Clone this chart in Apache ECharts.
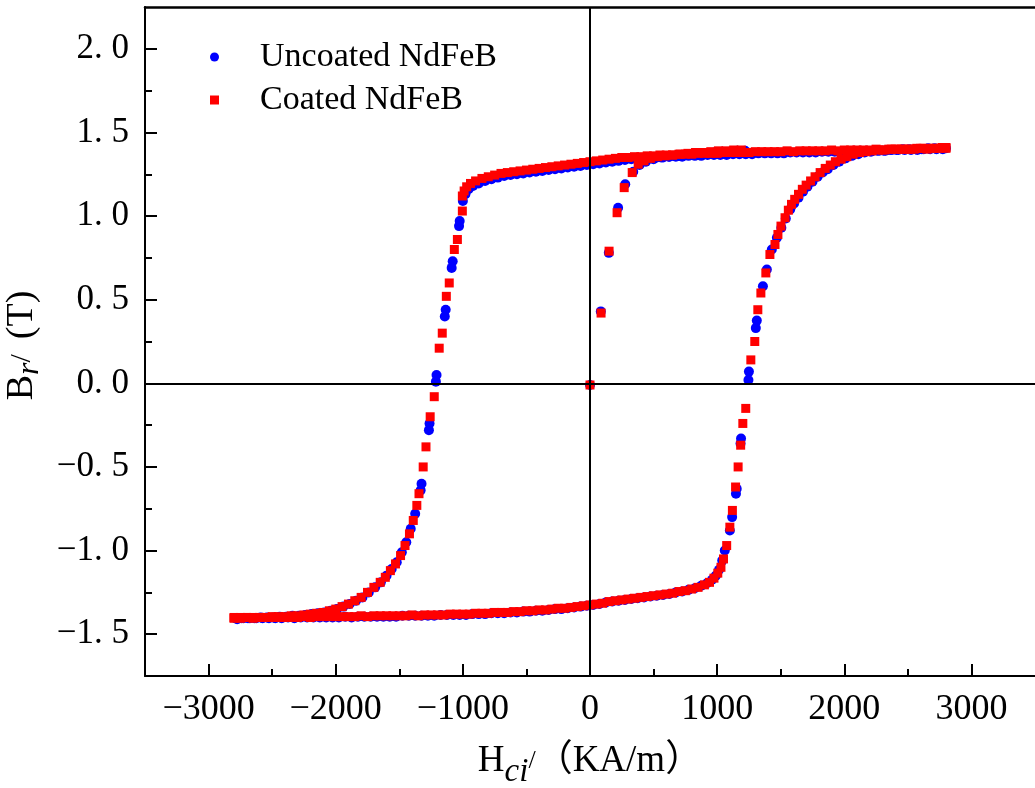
<!DOCTYPE html>
<html>
<head>
<meta charset="utf-8">
<title>NdFeB hysteresis loops</title>
<script src="https://cdn.jsdelivr.net/npm/echarts@6/dist/echarts.min.js"></script>
<style>
  html, body { margin: 0; padding: 0; background: #fff; }
  #chart { width: 1035px; height: 788px; }
</style>
</head>
<body>
<div id="chart"></div>
<script>
// Axis ticks and their labels
const xMajorTicks = [-3000, -2000, -1000, 0, 1000, 2000, 3000];
const xMinorTicks = [-2500, -1500, -500, 500, 1500, 2500];
const xTickLabels = ['\u22123000', '\u22122000', '\u22121000', '0', '1000', '2000', '3000'];
const yMajorTicks = [-1.5, -1.0, -0.5, 0, 0.5, 1.0, 1.5, 2.0];
const yMinorTicks = [-1.25, -0.75, -0.25, 0.25, 0.75, 1.25, 1.75];
const yTickLabels = ['\u22121. 5', '\u22121. 0', '\u22120. 5', '0. 0', '0. 5', '1. 0', '1. 5', '2. 0'];

const seriesNames = ['Uncoated NdFeB', 'Coated NdFeB'];

// Uncoated NdFeB, [H (KA/m), B (T)]
const uncoatedInitial = [
  [0, -0.01], [85, 0.43], [148, 0.78], [221, 1.05], [277, 1.19], [340, 1.265], [390, 1.305],
  [440, 1.325], [500, 1.34], [560, 1.35], [620, 1.355], [680, 1.36], [740, 1.365], [800, 1.37],
  [860, 1.375], [920, 1.375], [980, 1.38], [1040, 1.385], [1100, 1.385], [1160, 1.39], [1220, 1.39]
];
const uncoatedDescending = [
  [2775, 1.400], [2725, 1.400], [2675, 1.400], [2625, 1.400], [2575, 1.395], [2525, 1.395],
  [2475, 1.395], [2425, 1.395], [2375, 1.395], [2325, 1.390], [2275, 1.390], [2225, 1.390],
  [2175, 1.390], [2125, 1.390], [2075, 1.390], [2025, 1.385], [1975, 1.385], [1925, 1.385],
  [1875, 1.385], [1825, 1.385], [1775, 1.380], [1725, 1.380], [1675, 1.380], [1625, 1.380],
  [1575, 1.380], [1525, 1.375], [1475, 1.375], [1425, 1.375], [1375, 1.375], [1325, 1.375],
  [1275, 1.370], [1225, 1.370], [1175, 1.370], [1125, 1.370], [1075, 1.365], [1025, 1.365],
  [975, 1.365], [925, 1.365], [875, 1.360], [825, 1.360], [775, 1.360], [725, 1.355],
  [675, 1.355], [625, 1.355], [575, 1.350], [525, 1.350], [475, 1.345], [425, 1.345],
  [375, 1.340], [325, 1.340], [275, 1.335], [225, 1.330], [175, 1.325], [125, 1.320],
  [75, 1.315], [25, 1.310], [-25, 1.305], [-75, 1.300], [-125, 1.295], [-175, 1.290],
  [-225, 1.285], [-275, 1.280], [-325, 1.275], [-375, 1.270], [-425, 1.265], [-475, 1.260],
  [-525, 1.255], [-575, 1.250], [-625, 1.245], [-675, 1.240], [-725, 1.230], [-775, 1.220],
  [-825, 1.210], [-875, 1.195], [-920, 1.180], [-955, 1.160], [-980, 1.130], [-1000, 1.090],
  [-1025, 0.97], [-1030, 0.94], [-1080, 0.73], [-1088, 0.69], [-1135, 0.44], [-1142, 0.40],
  [-1207, 0.05], [-1212, 0.01], [-1262, -0.24], [-1267, -0.28], [-1325, -0.60], [-1332, -0.64],
  [-1375, -0.78], [-1410, -0.87], [-1445, -0.95], [-1480, -1.01], [-1520, -1.07], [-1560, -1.11],
  [-1600, -1.15], [-1645, -1.19], [-1690, -1.22], [-1740, -1.25], [-1790, -1.28], [-1840, -1.30],
  [-1890, -1.32], [-1940, -1.335], [-1990, -1.35], [-2040, -1.36], [-2090, -1.37], [-2140, -1.375],
  [-2190, -1.38], [-2240, -1.385], [-2290, -1.39], [-2340, -1.39], [-2390, -1.395], [-2440, -1.395],
  [-2490, -1.40], [-2540, -1.40], [-2590, -1.40], [-2640, -1.405], [-2690, -1.405], [-2740, -1.405],
  [-2790, -1.405]
];
const uncoatedAscending = [
  [-2775, -1.410], [-2725, -1.405], [-2675, -1.405], [-2625, -1.405], [-2575, -1.405], [-2525, -1.405],
  [-2475, -1.405], [-2425, -1.405], [-2375, -1.400], [-2325, -1.405], [-2275, -1.400], [-2225, -1.400],
  [-2175, -1.400], [-2125, -1.400], [-2075, -1.400], [-2025, -1.400], [-1975, -1.400], [-1925, -1.395],
  [-1875, -1.400], [-1825, -1.395], [-1775, -1.395], [-1725, -1.395], [-1675, -1.395], [-1625, -1.395],
  [-1575, -1.395], [-1525, -1.395], [-1475, -1.390], [-1425, -1.390], [-1375, -1.390], [-1325, -1.390],
  [-1275, -1.390], [-1225, -1.390], [-1175, -1.385], [-1125, -1.385], [-1075, -1.385], [-1025, -1.385],
  [-975, -1.385], [-925, -1.380], [-875, -1.380], [-825, -1.380], [-775, -1.375], [-725, -1.375],
  [-675, -1.375], [-625, -1.370], [-575, -1.370], [-525, -1.365], [-475, -1.365], [-425, -1.360],
  [-375, -1.360], [-325, -1.355], [-275, -1.350], [-225, -1.350], [-175, -1.345], [-125, -1.340],
  [-75, -1.335], [-25, -1.330], [25, -1.325], [75, -1.320], [125, -1.310], [175, -1.305],
  [225, -1.300], [275, -1.295], [325, -1.290], [375, -1.285], [425, -1.280], [475, -1.275],
  [525, -1.270], [575, -1.265], [625, -1.260], [675, -1.250], [725, -1.245], [775, -1.235],
  [825, -1.225], [875, -1.210], [920, -1.195], [960, -1.175], [990, -1.150], [1015, -1.115],
  [1040, -1.060], [1060, -1.00], [1100, -0.88], [1118, -0.80], [1148, -0.66], [1154, -0.63],
  [1184, -0.36], [1188, -0.33], [1246, 0.02], [1250, 0.07], [1304, 0.33], [1312, 0.375],
  [1360, 0.58], [1391, 0.68], [1430, 0.80], [1470, 0.87], [1505, 0.93], [1540, 0.985],
  [1575, 1.04], [1605, 1.075], [1640, 1.11], [1675, 1.145], [1710, 1.175], [1750, 1.205],
  [1790, 1.235], [1830, 1.26], [1870, 1.28], [1915, 1.305], [1960, 1.325], [2010, 1.345],
  [2060, 1.36], [2110, 1.37], [2160, 1.38], [2210, 1.385], [2260, 1.39], [2310, 1.39],
  [2360, 1.395], [2410, 1.395], [2460, 1.40], [2510, 1.40], [2560, 1.40], [2610, 1.40],
  [2660, 1.405], [2710, 1.405], [2760, 1.405], [2800, 1.405]
];

// Coated NdFeB, [H (KA/m), B (T)]
const coatedInitial = [
  [0, -0.01], [87, 0.42], [150, 0.79], [213, 1.02], [269, 1.17], [332, 1.26], [379, 1.31],
  [425, 1.33], [475, 1.345], [530, 1.355], [590, 1.36], [650, 1.365], [710, 1.37], [770, 1.375],
  [830, 1.38], [890, 1.38], [950, 1.385], [1010, 1.39], [1070, 1.39], [1130, 1.395], [1190, 1.395]
];
const coatedDescending = [
  [2800, 1.405], [2750, 1.405], [2700, 1.405], [2650, 1.400], [2600, 1.405], [2550, 1.400],
  [2500, 1.400], [2450, 1.400], [2400, 1.400], [2350, 1.400], [2300, 1.395], [2250, 1.400],
  [2200, 1.395], [2150, 1.395], [2100, 1.395], [2050, 1.395], [2000, 1.395], [1950, 1.390],
  [1900, 1.395], [1850, 1.390], [1800, 1.390], [1750, 1.390], [1700, 1.390], [1650, 1.390],
  [1600, 1.385], [1550, 1.390], [1500, 1.385], [1450, 1.385], [1400, 1.385], [1350, 1.385],
  [1300, 1.385], [1250, 1.380], [1200, 1.380], [1150, 1.380], [1100, 1.380], [1050, 1.380],
  [1000, 1.375], [950, 1.375], [900, 1.375], [850, 1.375], [800, 1.370], [750, 1.370],
  [700, 1.370], [650, 1.365], [600, 1.365], [550, 1.365], [500, 1.360], [450, 1.360],
  [400, 1.355], [350, 1.355], [300, 1.350], [250, 1.350], [200, 1.345], [150, 1.340],
  [100, 1.335], [50, 1.330], [0, 1.325], [-50, 1.320], [-100, 1.315], [-150, 1.310],
  [-200, 1.305], [-250, 1.300], [-300, 1.295], [-350, 1.290], [-400, 1.285], [-450, 1.280],
  [-500, 1.275], [-550, 1.270], [-600, 1.265], [-650, 1.260], [-700, 1.255], [-750, 1.245],
  [-800, 1.235], [-850, 1.225], [-900, 1.210], [-940, 1.195], [-970, 1.175], [-990, 1.150],
  [-1004, 1.12], [-1004, 1.03], [-1043, 0.86], [-1067, 0.80], [-1107, 0.60], [-1130, 0.52],
  [-1162, 0.30], [-1186, 0.21], [-1225, -0.08], [-1257, -0.20], [-1290, -0.38], [-1312, -0.50],
  [-1345, -0.66], [-1362, -0.73], [-1390, -0.82], [-1420, -0.90], [-1455, -0.97], [-1490, -1.03],
  [-1530, -1.08], [-1570, -1.12], [-1610, -1.16], [-1650, -1.19], [-1700, -1.22], [-1750, -1.25],
  [-1800, -1.28], [-1850, -1.30], [-1900, -1.32], [-1950, -1.335], [-2000, -1.35], [-2050, -1.36],
  [-2100, -1.37], [-2150, -1.375], [-2200, -1.38], [-2250, -1.385], [-2300, -1.39], [-2350, -1.39],
  [-2400, -1.395], [-2450, -1.395], [-2500, -1.395], [-2550, -1.40], [-2600, -1.40], [-2650, -1.40],
  [-2700, -1.40], [-2750, -1.40], [-2800, -1.40]
];
const coatedAscending = [
  [-2800, -1.405], [-2750, -1.405], [-2700, -1.400], [-2650, -1.405], [-2600, -1.400], [-2550, -1.400],
  [-2500, -1.400], [-2450, -1.400], [-2400, -1.400], [-2350, -1.400], [-2300, -1.400], [-2250, -1.395],
  [-2200, -1.400], [-2150, -1.395], [-2100, -1.395], [-2050, -1.395], [-2000, -1.395], [-1950, -1.395],
  [-1900, -1.395], [-1850, -1.395], [-1800, -1.390], [-1750, -1.395], [-1700, -1.390], [-1650, -1.390],
  [-1600, -1.390], [-1550, -1.390], [-1500, -1.390], [-1450, -1.390], [-1400, -1.385], [-1350, -1.390],
  [-1300, -1.385], [-1250, -1.385], [-1200, -1.385], [-1150, -1.385], [-1100, -1.380], [-1050, -1.380],
  [-1000, -1.380], [-950, -1.380], [-900, -1.375], [-850, -1.375], [-800, -1.375], [-750, -1.370],
  [-700, -1.370], [-650, -1.370], [-600, -1.365], [-550, -1.365], [-500, -1.360], [-450, -1.360],
  [-400, -1.355], [-350, -1.355], [-300, -1.350], [-250, -1.345], [-200, -1.345], [-150, -1.340],
  [-100, -1.335], [-50, -1.330], [0, -1.325], [50, -1.320], [100, -1.315], [150, -1.305],
  [200, -1.300], [250, -1.295], [300, -1.290], [350, -1.285], [400, -1.280], [450, -1.275],
  [500, -1.270], [550, -1.265], [600, -1.260], [650, -1.255], [700, -1.245], [750, -1.240],
  [800, -1.230], [850, -1.220], [900, -1.205], [940, -1.190], [975, -1.165], [1005, -1.135],
  [1030, -1.100], [1050, -1.05], [1075, -0.97], [1100, -0.86], [1120, -0.76], [1145, -0.62],
  [1165, -0.50], [1185, -0.37], [1202, -0.24], [1225, -0.15], [1265, 0.14], [1296, 0.25],
  [1320, 0.44], [1344, 0.54], [1383, 0.66], [1415, 0.77], [1455, 0.83], [1478, 0.89],
  [1502, 0.94], [1534, 0.99], [1560, 1.035], [1585, 1.07], [1610, 1.10], [1640, 1.13],
  [1670, 1.16], [1700, 1.185], [1735, 1.21], [1770, 1.235], [1810, 1.26], [1850, 1.285],
  [1890, 1.305], [1930, 1.325], [1975, 1.34], [2020, 1.355], [2070, 1.37], [2120, 1.38],
  [2170, 1.385], [2220, 1.39], [2270, 1.395], [2320, 1.395], [2370, 1.40], [2420, 1.40],
  [2470, 1.40], [2520, 1.40], [2570, 1.405], [2620, 1.405], [2670, 1.405], [2720, 1.405],
  [2770, 1.41], [2800, 1.41]
];

const uncoatedData = uncoatedInitial.concat(uncoatedDescending, uncoatedAscending);
const coatedData = coatedInitial.concat(coatedDescending, coatedAscending);

const serif = "'Liberation Serif', 'Times New Roman', 'Noto Sans CJK SC', serif";
const BLACK = '#000';
const X_MIN = -3500, X_MAX = 3500, Y_MIN = -1.75, Y_MAX = 2.25;

function labelFor(ticks, labels) {
  return function (v) {
    for (let i = 0; i < ticks.length; i++) {
      if (Math.abs(ticks[i] - v) < 1e-6) return labels[i];
    }
    return '';
  };
}

const chart = echarts.init(document.getElementById('chart'), null, { renderer: 'canvas' });

const option = {
  backgroundColor: '#fff',
  animation: false,
  grid: { left: 145, right: 0, top: 7, bottom: 112, containLabel: false, outerBoundsMode: 'none' },
  legend: {
    orient: 'vertical',
    left: 205,
    top: 35,
    itemWidth: 9,
    itemHeight: 9,
    itemGap: 9,
    textStyle: { fontFamily: serif, fontSize: 34, color: BLACK, lineHeight: 34, padding: [0, 0, 0, 36] },
    data: [
      { name: seriesNames[0], icon: 'circle' },
      { name: seriesNames[1], icon: 'rect' }
    ]
  },
  xAxis: [
    {
      type: 'value', min: X_MIN, max: X_MAX, position: 'bottom',
      axisLine: { onZero: false, lineStyle: { color: BLACK, width: 2 } },
      axisTick: { inside: true, length: 12, customValues: xMajorTicks, lineStyle: { color: BLACK, width: 2 } },
      axisLabel: {
        customValues: xMajorTicks, margin: 16, formatter: labelFor(xMajorTicks, xTickLabels),
        fontFamily: serif, fontSize: 36, color: BLACK
      },
      splitLine: { show: false },
      name: '{h|H}{c|ci}{s|/}{k|\uff08KA/m\uff09}',
      nameLocation: 'middle',
      nameGap: 67,
      nameTextStyle: {
        fontFamily: serif, fontSize: 36, color: BLACK,
        rich: {
          h: { fontFamily: serif, fontSize: 37, lineHeight: 36 },
          c: { fontFamily: serif, fontSize: 33, fontStyle: 'italic', lineHeight: 32, padding: [22, 0, 0, 0] },
          s: { fontFamily: serif, fontSize: 26, lineHeight: 30 },
          k: { fontFamily: serif, fontSize: 37, lineHeight: 36 }
        }
      }
    },
    {
      type: 'value', min: X_MIN, max: X_MAX, position: 'bottom',
      axisLine: { show: false, onZero: false },
      axisTick: { inside: true, length: 7, customValues: xMinorTicks, lineStyle: { color: BLACK, width: 2 } },
      axisLabel: { show: false },
      splitLine: { show: false }
    },
    {
      type: 'value', min: X_MIN, max: X_MAX, position: 'top',
      axisLine: { onZero: false, lineStyle: { color: BLACK, width: 2.5 } },
      axisTick: { show: false }, axisLabel: { show: false }, splitLine: { show: false }
    }
  ],
  yAxis: [
    {
      type: 'value', min: Y_MIN, max: Y_MAX, position: 'left',
      axisLine: { onZero: false, lineStyle: { color: BLACK, width: 2 } },
      axisTick: { inside: true, length: 12, customValues: yMajorTicks, lineStyle: { color: BLACK, width: 2 } },
      axisLabel: {
        customValues: yMajorTicks, margin: 16, formatter: labelFor(yMajorTicks, yTickLabels),
        fontFamily: serif, fontSize: 35, color: BLACK
      },
      splitLine: { show: false },
      name: '{b|B}{r|r}{s|/\u2002}{t|(T)}',
      nameLocation: 'middle',
      nameGap: 87,
      nameTextStyle: {
        fontFamily: serif, fontSize: 37, color: BLACK, padding: [0, 8, 0, 0],
        rich: {
          b: { fontFamily: serif, fontSize: 38, lineHeight: 38 },
          r: { fontFamily: serif, fontSize: 32, fontStyle: 'italic', lineHeight: 30, padding: [16, 0, 0, 0] },
          s: { fontFamily: serif, fontSize: 30, lineHeight: 30 },
          t: { fontFamily: serif, fontSize: 38, lineHeight: 38 }
        }
      }
    },
    {
      type: 'value', min: Y_MIN, max: Y_MAX, position: 'left',
      axisLine: { show: false, onZero: false },
      axisTick: { inside: true, length: 7, customValues: yMinorTicks, lineStyle: { color: BLACK, width: 2 } },
      axisLabel: { show: false },
      splitLine: { show: false }
    }
  ],
  series: [
    {
      // zero reference lines through the origin
      type: 'line', data: [], z: 1, silent: true,
      markLine: {
        silent: true, symbol: 'none', animation: false,
        label: { show: false },
        lineStyle: { color: BLACK, width: 2, type: 'solid' },
        emphasis: { disabled: true },
        data: [{ xAxis: 0 }, { yAxis: 0 }]
      }
    },
    {
      name: seriesNames[0], type: 'scatter', z: 3,
      symbol: 'circle', symbolSize: 10,
      itemStyle: { color: '#0000FF', opacity: 1 },
      data: uncoatedData
    },
    {
      name: seriesNames[1], type: 'scatter', z: 4,
      symbol: 'rect', symbolSize: 9,
      itemStyle: { color: '#FF0000', opacity: 1 },
      data: coatedData
    }
  ]
};

chart.setOption(option);
</script>
</body>
</html>
